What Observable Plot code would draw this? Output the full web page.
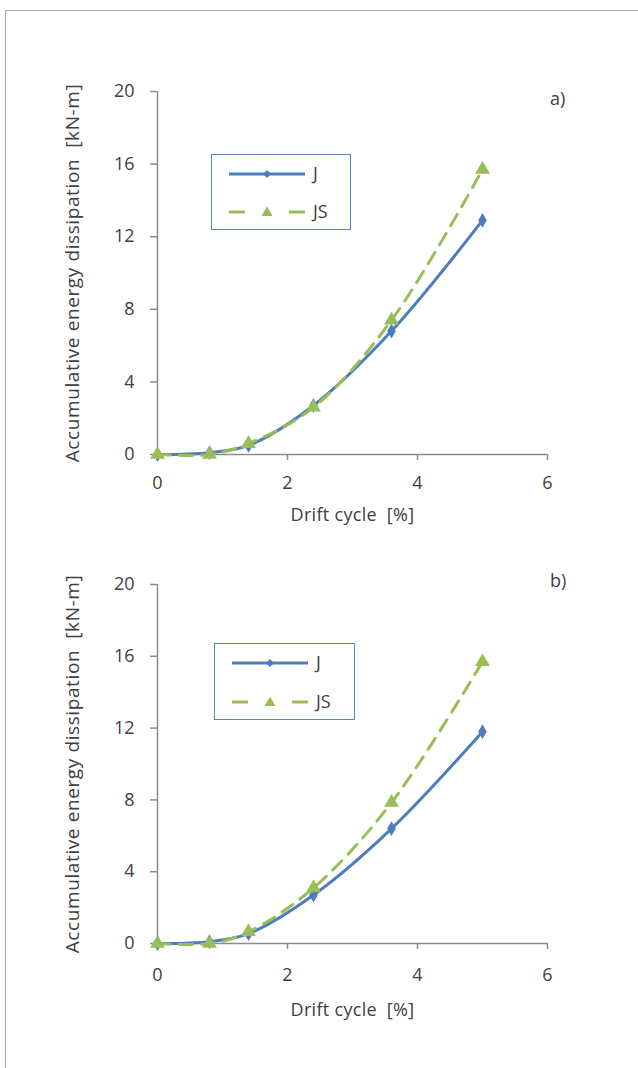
<!DOCTYPE html>
<html><head><meta charset="utf-8">
<script src="https://cdn.jsdelivr.net/npm/d3@7"></script>
<script src="https://cdn.jsdelivr.net/npm/@observablehq/plot@0.6"></script>
<style>
body{margin:0;background:#fff;}
#page{position:relative;width:638px;height:1068px;overflow:hidden;font-family:"Open Sans",sans-serif;color:#404040;}
#frame{position:absolute;left:5px;top:10px;width:700px;height:1100px;border-left:1.5px solid #a8a8a8;border-top:1.5px solid #a8a8a8;}
.panel{position:absolute;left:0;}
.legend{position:absolute;border:1.5px solid #5b84c4;background:#fff;}
.tag{position:absolute;font-size:18px;}
</style></head>
<body><div id="page"><div id="frame"></div></div>
<script>
const drift = [0, 0.8, 1.4, 2.4, 3.6, 5];
const aJ  = [0, 0.1, 0.5, 2.7, 6.8, 12.9];
const aJS = [0, 0, 0.6, 2.6, 7.4, 15.7];
const bJ  = [0, 0.1, 0.55, 2.7, 6.4, 11.8];
const bJS = [0, 0, 0.65, 3.1, 7.85, 15.7];
const xTicks = [0, 2, 4, 6];
const yTicks = [0, 4, 8, 12, 16, 20];
const seriesNames = ["J", "JS"];
const panelTags = ["a)", "b)"];
const xLabel = "Drift cycle  [%]";
const yLabel = "Accumulative energy dissipation  [kN-m]";

const blue = "#4d7cbf", green = "#99bd57", axisCol = "#8c8c8c";
const page = document.getElementById("page");

function panel(J, JS, top, mTop, mBottom, tickPad, xLabOff) {
  const data = drift.map((d, i) => ({x: d, J: J[i], JS: JS[i]}));
  const p = Plot.plot({
    width: 638, height: 540,
    marginTop: mTop, marginBottom: mBottom, marginLeft: 157, marginRight: 91,
    x: {domain: [0, 6]},
    y: {domain: [0, 20]},
    style: {fontFamily: '"Open Sans", sans-serif', fontSize: "18px", color: "#404040", background: "transparent"},
    marks: [
      Plot.ruleY([0], {stroke: axisCol, strokeWidth: 1.5}),
      Plot.ruleX([0], {stroke: axisCol, strokeWidth: 1.5}),
      Plot.axisX({ticks: xTicks, tickFormat: "d", tickSize: 6, tickPadding: tickPad, stroke: axisCol, strokeWidth: 1.5, fontSize: 18,
        label: xLabel, labelAnchor: "center", labelArrow: "none", labelOffset: xLabOff}),
      Plot.axisY({ticks: yTicks, tickSize: 7, tickPadding: 16, stroke: axisCol, strokeWidth: 1.5, fontSize: 18,
        label: yLabel, labelAnchor: "center", labelArrow: "none", labelOffset: 92}),
      Plot.line(data, {x: "x", y: "J", curve: "catmull-rom", stroke: blue, strokeWidth: 3}),
      Plot.dot(data, {x: "x", y: "J", symbol: "diamond", fill: blue, r: 4.5}),
      Plot.line(data, {x: "x", y: "JS", curve: "catmull-rom", stroke: green, strokeWidth: 3, strokeDasharray: "13,9"}),
      Plot.dot(data, {x: "x", y: "JS", symbol: "triangle", fill: green, r: 5.5})
    ]
  });
  p.querySelectorAll('[aria-label="x-axis label"] text').forEach(t => { t.style.fontSize = "18px"; t.style.letterSpacing = "0.3px"; });
  p.querySelectorAll('[aria-label="y-axis label"] text').forEach(t => { t.style.fontSize = "19px"; t.style.letterSpacing = "0.6px"; });
  p.querySelectorAll('[aria-label$="tick label"] text').forEach(t => { t.style.fontSize = "18px"; });
  p.classList.add("panel");
  p.style.top = top + "px";
  page.appendChild(p);
}

function legend(left, top, w, h, row1, row2) {
  const d = document.createElement("div");
  d.className = "legend";
  d.style.left = left + "px"; d.style.top = top + "px";
  d.style.width = w + "px"; d.style.height = h + "px";
  const ns = "http://www.w3.org/2000/svg";
  const svg = document.createElementNS(ns, "svg");
  svg.setAttribute("width", w); svg.setAttribute("height", h);
  svg.style.position = "absolute"; svg.style.left = "0"; svg.style.top = "0";
  svg.innerHTML = `
    <line x1="17" x2="93" y1="${row1}" y2="${row1}" stroke="${blue}" stroke-width="3"/>
    <path d="M55,${row1-4}L59,${row1}L55,${row1+4}L51,${row1}Z" fill="${blue}"/>
    <line x1="17" x2="33" y1="${row2}" y2="${row2}" stroke="${green}" stroke-width="3"/>
    <line x1="77" x2="93" y1="${row2}" y2="${row2}" stroke="${green}" stroke-width="3"/>
    <path d="M55,${row2-5.5}L60.5,${row2+4}L49.5,${row2+4}Z" fill="${green}"/>
    <text x="101" y="${row1}" dy="0.35em" font-size="18" fill="#404040" font-family="Open Sans">${seriesNames[0]}</text>
    <text x="101" y="${row2}" dy="0.35em" font-size="18" fill="#404040" font-family="Open Sans">${seriesNames[1]}</text>`;
  d.appendChild(svg);
  page.appendChild(d);
}

function tag(t, left, top) {
  const s = document.createElement("div");
  s.className = "tag"; s.textContent = t;
  s.style.left = left + "px"; s.style.top = top + "px";
  page.appendChild(s);
}

panel(aJ, aJS, 0, 91, 86, 16, 66);
panel(bJ, bJS, 493, 91, 90, 19, 72);
legend(211, 154, 138, 74, 19, 57);
legend(214, 643, 139, 75, 19, 58);
tag(panelTags[0], 550, 86);
tag(panelTags[1], 550, 568);
</script></body></html>
